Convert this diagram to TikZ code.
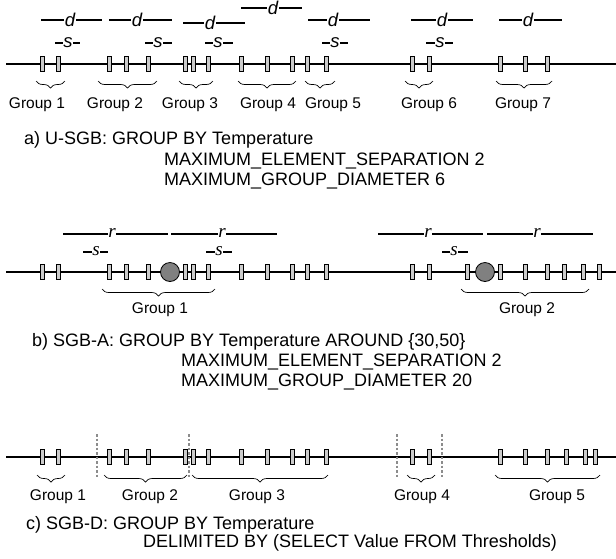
\documentclass[tikz,border=0pt]{standalone}
\usepackage{fontspec}
\setmainfont{Liberation Sans}
\newfontfamily\serifit{Liberation Serif}
\usetikzlibrary{decorations.pathreplacing}
\begin{document}
\begin{tikzpicture}[x=1pt,y=-1pt,
  axisline/.style={line width=2.8pt, line cap=butt},
  tickbox/.style={rectangle, draw=black, line width=0.6pt, fill=black!20, minimum width=4pt, minimum height=15pt, inner sep=0pt},
  bigdot/.style={circle, draw=black, line width=0.8pt, fill=black!50, minimum size=19pt, inner sep=0pt},
  meas/.style={line width=1.2pt},
  dlab/.style={fill=white, inner xsep=0.4pt, inner ysep=1pt, font=\fontsize{18.5}{18.5}\selectfont\itshape},
  rlab/.style={fill=white, inner xsep=0.4pt, inner ysep=1pt, font=\fontsize{19}{19}\serifit\itshape},
  gbrace/.style={decorate, decoration={brace, mirror, amplitude=7pt}, line width=0.7pt},
  lbl/.style={font=\fontsize{15.5}{15.5}\selectfont, inner sep=0pt},
  captxt/.style={font=\fontsize{18}{18}\selectfont, inner sep=0pt, anchor=west},
  delim/.style={draw=black!45, line width=2pt, dash pattern=on 2.5pt off 2pt}
]
\useasboundingbox (0,0) rectangle (616,558);

% ================= Row a =================
\coordinate (aL) at (6,64); \coordinate (aR) at (616,64);
\draw[axisline] (aL) -- (aR);
\foreach \x [count=\i] in {42,58,109,126,148,185,193,208,241,267,292,307,326,412,429,500,525,547}
  \node[tickbox] (at\i) at (\x,64) {};
% d measures
\foreach \l/\r/\m/\yy [count=\i] in {41/102/70/20,109/172/137/20,183/245/210/23,241/302/273/8,308/370/333/20,411/473/442/20,499/562/528/20}{
  \coordinate (adl\i) at (\l,\yy); \coordinate (adr\i) at (\r,\yy);
  \draw[meas] (adl\i) -- (adr\i);
  \node[dlab] (ad\i) at (\m,\yy) {d};
}
% s measures
\foreach \l/\r/\m [count=\i] in {55/80/68,145/172/158,205/233/218,322/348/335,426/453/440}{
  \coordinate (asl\i) at (\l,43); \coordinate (asr\i) at (\r,43);
  \draw[meas] (asl\i) -- (asr\i);
  \node[dlab] (as\i) at (\m,43) {s};
}
% braces and labels
\foreach \l/\r/\m [count=\i] in {36/65/37,98/157/115,179/213/190,238/296/268,305/335/333,405/433/429,496/552/523}{
  \coordinate (abl\i) at (\l,81); \coordinate (abr\i) at (\r,81);
  \draw[gbrace] (abl\i) -- (abr\i);
  \node[lbl] (ag\i) at (\m,105) {Group \i};
}
\node[captxt] (capa1) at (24,140) {a) U-SGB: GROUP BY Temperature};
\node[captxt] (capa2) at (164,161) {MAXIMUM\_ELEMENT\_SEPARATION 2};
\node[captxt] (capa3) at (164,181) {MAXIMUM\_GROUP\_DIAMETER 6};

% ================= Row b =================
\coordinate (bL) at (6,272); \coordinate (bR) at (616,272);
\draw[axisline] (bL) -- (bR);
\foreach \x [count=\i] in {42,58,109,126,148,185,193,208,241,267,292,307,326,412,429,467,500,525,547,564,583,599}
  \node[tickbox] (bt\i) at (\x,272) {};
\node[bigdot] (bc1) at (170,272) {};
\node[bigdot] (bc2) at (485,272) {};
\foreach \l/\r/\m [count=\i] in {63/168/112,171/277/222,378/483/428,487/593/537}{
  \coordinate (brl\i) at (\l,234); \coordinate (brr\i) at (\r,234);
  \draw[meas] (brl\i) -- (brr\i);
  \node[rlab] (br\i) at (\m,233) {r};
}
\foreach \l/\r/\m [count=\i] in {83/108/96,206/232/219,442/468/454}{
  \coordinate (bsl\i) at (\l,252); \coordinate (bsr\i) at (\r,252);
  \draw[meas] (bsl\i) -- (bsr\i);
  \node[rlab] (bs\i) at (\m,251) {s};
}
\foreach \l/\r/\m [count=\i] in {102/215/160,461/589/527}{
  \coordinate (bbl\i) at (\l,289); \coordinate (bbr\i) at (\r,289);
  \draw[gbrace] (bbl\i) -- (bbr\i);
  \node[lbl] (bg\i) at (\m,310) {Group \i};
}
\node[captxt] (capb1) at (32,342) {b) SGB-A: GROUP BY Temperature AROUND \{30,50\}};
\node[captxt] (capb2) at (181,362) {MAXIMUM\_ELEMENT\_SEPARATION 2};
\node[captxt] (capb3) at (181,382) {MAXIMUM\_GROUP\_DIAMETER 20};

% ================= Row c =================
\coordinate (cL) at (6,457); \coordinate (cR) at (616,457);
\draw[axisline] (cL) -- (cR);
\foreach \x [count=\i] in {42,58,109,126,148,185,193,208,241,267,292,307,326,412,429,500,525,547,566,585,595}
  \node[tickbox] (ct\i) at (\x,457) {};
\foreach \x [count=\i] in {97,189,397,442}{
  \coordinate (cdt\i) at (\x,434); \coordinate (cdb\i) at (\x,478);
  \draw[delim] (cdt\i) -- (cdb\i);
}
\foreach \l/\r/\m [count=\i] in {37/65/58,104/187/150,192/328/257,407/435/422,495/600/557}{
  \coordinate (cbl\i) at (\l,475); \coordinate (cbr\i) at (\r,475);
  \draw[gbrace] (cbl\i) -- (cbr\i);
  \node[lbl] (cg\i) at (\m,497) {Group \i};
}
\node[captxt] (capc1) at (26,525) {c) SGB-D: GROUP BY Temperature};
\node[captxt] (capc2) at (143,543) {DELIMITED BY (SELECT Value FROM Thresholds)};
\end{tikzpicture}
\end{document}
